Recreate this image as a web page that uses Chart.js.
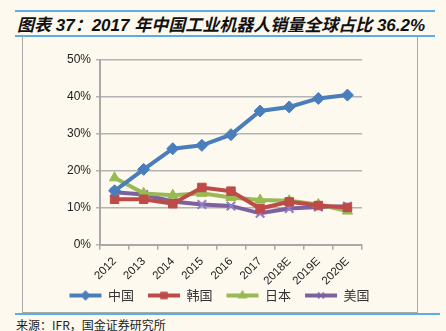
<!DOCTYPE html>
<html><head><meta charset="utf-8">
<script src="https://cdn.jsdelivr.net/npm/chart.js@4/dist/chart.umd.min.js"></script>
<style>
html,body{margin:0;padding:0;background:#FDF9EE;}
#page{position:relative;width:446px;height:331px;background:#FDF9EE;overflow:hidden;font-family:"Liberation Sans",Arial,sans-serif;}
.bl{position:absolute;height:2px;background:#5AAEE0;}
#title{position:absolute;left:17px;top:11px;font-family:"Liberation Sans","Noto Sans CJK SC",sans-serif;font-weight:bold;font-style:italic;font-size:17px;color:#111;white-space:nowrap;}
#box{position:absolute;left:22px;top:36px;width:394px;height:276px;border:1px solid #A8A8A8;border-top:none;box-sizing:content-box;}
#wrap{position:absolute;left:23px;top:37px;width:393px;height:275px;}
#src{position:absolute;left:16px;top:316px;font-size:12px;color:#222;font-family:"Noto Sans CJK SC","Liberation Sans",sans-serif;white-space:nowrap;}
</style></head>
<body><div id="page">
<div class="bl" style="left:15px;top:10px;width:420px"></div>
<div id="title">图表 37：2017 年中国工业机器人销量全球占比 36.2%</div>
<div class="bl" style="left:15px;top:35px;width:420px"></div>
<div id="box"></div>
<div id="wrap"><canvas id="c"></canvas></div>
<div class="bl" style="left:15px;top:313px;width:425px"></div>
<div id="src">来源：IFR，国金证券研究所</div>
</div>
<script>
const categories = ['2012','2013','2014','2015','2016','2017','2018E','2019E','2020E'];
const seriesNames = ['中国','韩国','日本','美国'];
const china = [14.6, 20.4, 26.0, 26.9, 29.8, 36.2, 37.3, 39.6, 40.5];
const korea = [12.3, 12.3, 11.1, 15.5, 14.5, 9.8, 11.6, 10.6, 10.1];
const japan = [18.1, 13.9, 13.4, 13.9, 12.8, 12.1, 11.9, 10.9, 9.1];
const usa   = [14.2, 13.6, 11.7, 10.9, 10.5, 8.5, 9.8, 10.2, 10.4];
const yTicks = [0, 10, 20, 30, 40, 50];

const colors = ['#4A7EBB','#BE4B48','#98B954','#7D60A0'];
const styles = ['rectRot','rect','triangle','crossRot'];

function legendIcon(color, style){
  const cv = document.createElement('canvas');
  cv.width = 34; cv.height = 12;
  const ctx = cv.getContext('2d');
  ctx.strokeStyle = color; ctx.fillStyle = color; ctx.lineWidth = 4;
  ctx.beginPath(); ctx.moveTo(1,6); ctx.lineTo(33,6); ctx.stroke();
  ctx.lineWidth = 1.5;
  Chart.helpers.drawPoint(ctx, {pointStyle: style, radius: 4, rotation: 0, borderWidth: 1.5}, 17, 6);
  ctx.fill(); ctx.stroke();
  return cv;
}

const data = [china, korea, japan, usa];
const datasets = data.map((d,i)=>({
  label: seriesNames[i],
  data: d,
  borderColor: colors[i],
  backgroundColor: colors[i],
  borderWidth: 4,
  pointStyle: styles[i],
  pointRadius: 6,
  pointBorderWidth: i===3 ? 2 : 1,
  pointBorderColor: i===3 ? '#8E7CC3' : colors[i],
  tension: 0
}));
const icons = colors.map((c,i)=>legendIcon(c, styles[i]));

const unclipLabels = {
  id: 'unclipLabels',
  afterLayout(chart){ chart.scales.x.bottom = chart.height; }
};

new Chart(document.getElementById('c'), {
  type: 'line',
  data: { labels: categories, datasets },
  plugins: [unclipLabels],
  options: {
    responsive: true, maintainAspectRatio: false, animation: false,
    layout: { padding: { left: 0, top: 23, right: 0, bottom: 0 } },
    plugins: {
      legend: {
        position: 'bottom',
        labels: {
          usePointStyle: true, pointStyleWidth: 32,
          font: { family: '"Noto Sans CJK SC", sans-serif', size: 13 },
          color: '#333', padding: 14,
          generateLabels(chart){
            const items = Chart.defaults.plugins.legend.labels.generateLabels(chart);
            items.forEach((it, i)=>{ it.pointStyle = icons[i]; });
            return items;
          }
        }
      },
      tooltip: { enabled: false }
    },
    scales: {
      x: {
        offset: true,
        afterFit(s){ s.height = s.height - 18; },
        grid: { display: true, drawOnChartArea: false, offset: true, tickLength: 5, color: '#A8A8A8', lineWidth: 1.5 },
        border: { color: '#A8A8A8', width: 2 },
        ticks: { minRotation: 45, maxRotation: 45, color: '#222', font: { family: '"Liberation Sans", Arial', size: 11.5 }, padding: 5 }
      },
      y: {
        min: 0, max: 50,
        afterBuildTicks(s){ s.ticks = yTicks.map(v=>({value:v})); },
        afterFit(s){ s.width = 77; },
        grid: { color: '#B4B4B4', lineWidth: 1.5, tickLength: 4 },
        border: { color: '#A8A8A8', width: 2 },
        ticks: { color: '#222', font: { family: '"Liberation Sans", Arial', size: 12 }, padding: 5, callback: v => v + '%' }
      },
      yr: {
        position: 'right', display: true, min: 0, max: 50,
        afterFit(s){ s.width = 54; },
        grid: { display: false, drawTicks: false },
        border: { display: false },
        ticks: { display: false }
      }
    }
  }
});
</script>
</body></html>
